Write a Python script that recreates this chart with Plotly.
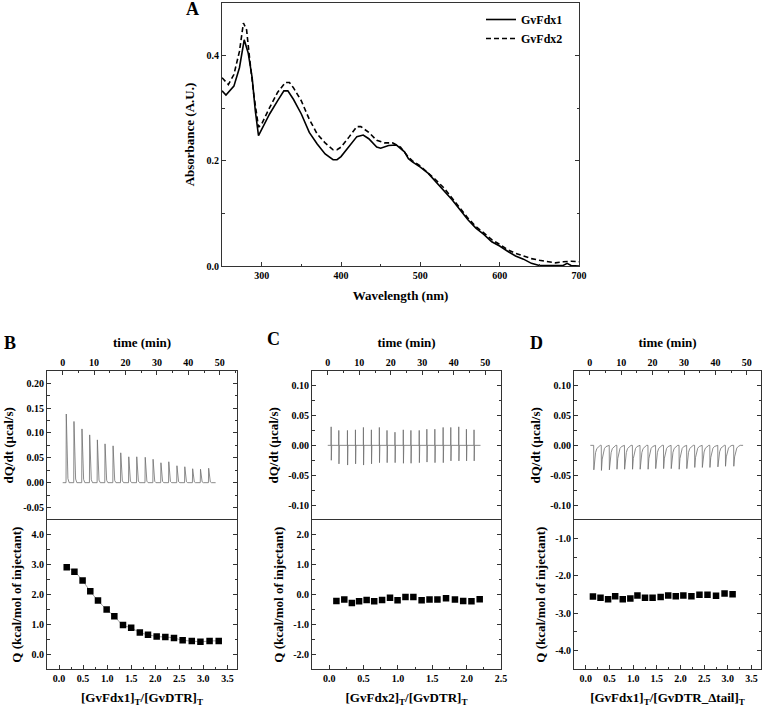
import plotly.graph_objects as go

W, H = 764, 707

# ---------------- Panel A data ----------------
wl_fdx1 = [250, 255, 265, 272, 278, 283, 288, 292, 296, 300, 310, 320, 328, 333, 340, 350, 360, 370,
           380, 390, 395, 400, 410, 420, 428, 435, 445, 450, 460, 470, 480, 485, 490, 500, 510, 520,
           530, 540, 550, 560, 570, 580, 590, 600, 610, 620, 630, 640, 650, 660, 670, 680, 685, 690, 700]
abs_fdx1 = [0.333, 0.325, 0.342, 0.377, 0.430, 0.405, 0.358, 0.295, 0.248, 0.260, 0.289, 0.314, 0.333,
            0.333, 0.317, 0.289, 0.254, 0.232, 0.213, 0.202, 0.202, 0.208, 0.226, 0.246, 0.249, 0.242,
            0.226, 0.224, 0.229, 0.230, 0.217, 0.204, 0.198, 0.188, 0.176, 0.160, 0.144, 0.126, 0.107,
            0.088, 0.072, 0.060, 0.046, 0.038, 0.028, 0.019, 0.013, 0.005, 0.001, 0.001, 0.000, 0.001,
            0.005, 0.001, 0.000]
wl_fdx2 = [250, 258, 265, 272, 277, 281, 285, 290, 296, 300, 310, 320, 330, 335, 340, 350, 360, 370,
           380, 390, 395, 400, 410, 420, 425, 435, 445, 455, 465, 475, 485, 490, 500, 510, 520, 530,
           540, 550, 560, 570, 580, 590, 600, 610, 620, 630, 640, 650, 660, 670, 680, 690, 700]
abs_fdx2 = [0.358, 0.345, 0.364, 0.408, 0.462, 0.449, 0.392, 0.327, 0.264, 0.270, 0.301, 0.330, 0.349,
            0.349, 0.339, 0.314, 0.279, 0.251, 0.234, 0.221, 0.221, 0.226, 0.245, 0.265, 0.265, 0.254,
            0.239, 0.234, 0.234, 0.226, 0.207, 0.200, 0.190, 0.177, 0.163, 0.148, 0.130, 0.110, 0.091,
            0.075, 0.063, 0.050, 0.041, 0.031, 0.024, 0.019, 0.014, 0.011, 0.009, 0.006, 0.008, 0.009,
            0.008]
a_xticks = [300, 400, 500, 600, 700]
a_yticks = [0.0, 0.2, 0.4]
a_ytext = ["0.0", "0.2", "0.4"]

# ---------------- Panel B data ----------------
b_inj_time = [1.06, 3.51, 6.06, 8.51, 10.96, 13.4, 15.96, 18.4, 20.96, 23.5, 26.2, 28.7, 31.2,
              33.7, 36.3, 38.8, 41.3, 43.8, 46.4]
b_peak = [0.138, 0.123, 0.108, 0.096, 0.086, 0.078, 0.074, 0.060, 0.052, 0.052, 0.051, 0.047,
          0.040, 0.042, 0.034, 0.032, 0.028, 0.027, 0.029]
b_time_span = [0.0, 48.7]
b_ratio = [0.16, 0.32, 0.49, 0.65, 0.81, 0.99, 1.15, 1.33, 1.50, 1.68, 1.85, 2.03, 2.21, 2.39,
           2.57, 2.76, 2.94, 3.13, 3.32]
b_heat = [2.92, 2.77, 2.47, 2.11, 1.80, 1.50, 1.28, 0.98, 0.89, 0.73, 0.66, 0.60, 0.58, 0.55,
          0.47, 0.45, 0.42, 0.45, 0.45]
b_up_ticks = [-0.05, 0.0, 0.05, 0.10, 0.15, 0.20]
b_up_text = ["-0.05", "0.00", "0.05", "0.10", "0.15", "0.20"]
b_lo_ticks = [0, 1, 2, 3, 4]
b_lo_text = ["0.0", "1.0", "2.0", "3.0", "4.0"]

# ---------------- Panel C data ----------------
c_inj_time = [1.05, 3.48, 6.22, 8.76, 11.29, 13.82, 16.35, 18.78, 21.31, 23.95, 26.37, 29.01,
              31.43, 33.97, 36.6, 39.03, 41.56, 43.99, 46.41]
c_up = [0.031, 0.025, 0.025, 0.026, 0.030, 0.026, 0.030, 0.025, 0.022, 0.026, 0.025, 0.025,
        0.027, 0.027, 0.030, 0.030, 0.031, 0.027, 0.026]
c_down = [-0.025, -0.031, -0.033, -0.031, -0.033, -0.031, -0.029, -0.029, -0.029, -0.030, -0.030,
          -0.029, -0.028, -0.029, -0.029, -0.026, -0.026, -0.026, -0.026]
c_time_span = [0.0, 48.5]
c_ratio = [0.105, 0.22, 0.33, 0.435, 0.545, 0.655, 0.77, 0.885, 0.995, 1.11, 1.225, 1.345,
           1.46, 1.575, 1.70, 1.83, 1.95, 2.07, 2.19]
c_heat = [-0.21, -0.16, -0.28, -0.22, -0.18, -0.22, -0.18, -0.10, -0.19, -0.08, -0.08, -0.19,
          -0.16, -0.16, -0.12, -0.16, -0.21, -0.22, -0.15]
cd_up_ticks = [-0.10, -0.05, 0.0, 0.05, 0.10]
cd_up_text = ["-0.10", "-0.05", "0.00", "0.05", "0.10"]
c_lo_ticks = [-2, -1, 0, 1, 2]
c_lo_text = ["-2.0", "-1.0", "0.0", "1.0", "2.0"]

# ---------------- Panel D data ----------------
d_inj_time = [1.26, 3.68, 6.21, 8.63, 11.05, 13.58, 16.0, 18.53, 20.95, 23.47, 25.89, 28.42,
              30.84, 33.37, 35.79, 38.21, 40.74, 43.16, 45.8]
d_dip = [-0.041, -0.042, -0.041, -0.040, -0.040, -0.040, -0.040, -0.040, -0.039, -0.039, -0.039,
         -0.040, -0.039, -0.037, -0.037, -0.037, -0.036, -0.035, -0.035]
d_time_span = [0.2, 48.8]
d_ratio = [0.15, 0.31, 0.47, 0.62, 0.78, 0.94, 1.09, 1.25, 1.41, 1.58, 1.74, 1.90, 2.06, 2.23,
           2.40, 2.57, 2.75, 2.93, 3.10]
d_heat = [-2.55, -2.58, -2.62, -2.54, -2.62, -2.60, -2.52, -2.58, -2.58, -2.56, -2.52, -2.54,
          -2.52, -2.54, -2.50, -2.50, -2.53, -2.47, -2.49]
d_lo_ticks = [-4, -3, -2, -1]
d_lo_text = ["-4.0", "-3.0", "-2.0", "-1.0"]

time_ticks = [0, 10, 20, 30, 40, 50]
ratio_ticks_35 = [0.0, 0.5, 1.0, 1.5, 2.0, 2.5, 3.0, 3.5]
ratio_text_35 = ["0.0", "0.5", "1.0", "1.5", "2.0", "2.5", "3.0", "3.5"]
ratio_ticks_25 = [0.0, 0.5, 1.0, 1.5, 2.0, 2.5]
ratio_text_25 = ["0.0", "0.5", "1.0", "1.5", "2.0", "2.5"]

# spike drawing profiles (style: time offset, fraction of the read peak)
profile_b = [(0.0, 0.0), (0.08, 1.0), (0.3, 0.3), (0.6, 0.06), (1.0, 0.0)]
profile_d = [(0.0, 0.0), (0.05, 1.0), (0.3, 0.55), (0.6, 0.3), (1.0, 0.13), (1.5, 0.05), (2.1, 0.0)]


def build_trace(span, times, peaks, profile):
    xs, ys = [span[0]], [0.0]
    for t, h in zip(times, peaks):
        for dt, f in profile:
            xs.append(t + dt)
            ys.append(f * h)
    xs.append(span[1])
    ys.append(0.0)
    return xs, ys


def build_c_trace(span, times, ups, downs):
    xs, ys = [span[0]], [0.0]
    for t, u, d in zip(times, ups, downs):
        xs += [t, t + 0.03, t + 0.08, t + 0.2]
        ys += [0.0, u, d, 0.0]
    xs.append(span[1])
    ys.append(0.0)
    return xs, ys


FONT = "Liberation Serif"
tickfont = dict(family=FONT, size=10, color="black", weight="bold")
titlefont = dict(family=FONT, size=13, color="black", weight="bold")
LINEC = "#333333"
RAW = "#6e6e6e"


def fx(p):
    return p / W


def fy(p):
    return 1 - p / H


def axis(domain, rng, tickvals, ticktext, minor_dtick, side, title, anchor,
         mirror="ticks", showlabels=True, standoff=6, linecolor=LINEC):
    d = dict(domain=domain, range=rng, anchor=anchor, side=side,
             showline=True, linecolor=linecolor, linewidth=1, mirror=mirror,
             ticks="inside", ticklen=4, tickwidth=1, tickcolor=LINEC,
             tickmode="array", tickvals=tickvals, ticktext=ticktext,
             showticklabels=showlabels, tickfont=tickfont,
             minor=dict(ticks="inside", ticklen=2.5, dtick=minor_dtick, tickcolor=LINEC,
                        tick0=0),
             showgrid=False, zeroline=False, automargin=False)
    if title:
        d["title"] = dict(text=title, font=titlefont, standoff=standoff)
    return d


fig = go.Figure()

# Panel A
fig.add_trace(go.Scatter(x=wl_fdx1, y=abs_fdx1, mode="lines", name="GvFdx1",
                         line=dict(color="black", width=1.6), xaxis="x", yaxis="y"))
fig.add_trace(go.Scatter(x=wl_fdx2, y=abs_fdx2, mode="lines", name="GvFdx2",
                         line=dict(color="black", width=1.6, dash="5px,3px"), xaxis="x", yaxis="y"))

# Panel B
bx, by = build_trace(b_time_span, b_inj_time, b_peak, profile_b)
fig.add_trace(go.Scatter(x=bx, y=by, mode="lines", line=dict(color=RAW, width=0.8),
                         showlegend=False, xaxis="x2", yaxis="y2"))
fig.add_trace(go.Scatter(x=b_ratio, y=b_heat, mode="lines", line=dict(color="#888888", width=0.8, shape="spline"),
                         showlegend=False, xaxis="x3", yaxis="y3"))
fig.add_trace(go.Scatter(x=b_ratio, y=b_heat, mode="markers",
                         marker=dict(symbol="square", size=6.5, color="black"),
                         showlegend=False, xaxis="x3", yaxis="y3"))

# Panel C
cx, cy = build_c_trace(c_time_span, c_inj_time, c_up, c_down)
fig.add_trace(go.Scatter(x=cx, y=cy, mode="lines", line=dict(color=RAW, width=0.8),
                         showlegend=False, xaxis="x4", yaxis="y4"))
fig.add_trace(go.Scatter(x=c_ratio, y=c_heat, mode="markers",
                         marker=dict(symbol="square", size=6.5, color="black"),
                         showlegend=False, xaxis="x5", yaxis="y5"))

# Panel D
dx, dy = build_trace(d_time_span, d_inj_time, d_dip, profile_d)
fig.add_trace(go.Scatter(x=dx, y=dy, mode="lines", line=dict(color=RAW, width=0.8),
                         showlegend=False, xaxis="x6", yaxis="y6"))
fig.add_trace(go.Scatter(x=d_ratio, y=d_heat, mode="markers",
                         marker=dict(symbol="square", size=6.5, color="black"),
                         showlegend=False, xaxis="x7", yaxis="y7"))

upper_dom = [fy(520), fy(370.7)]
lower_dom = [fy(669.3), fy(520)]
bx_dom = [fx(47), fx(237)]
cx_dom = [fx(312), fx(501)]
dx_dom = [fx(574), fx(761)]

time_text = [str(t) for t in time_ticks]
DIV = "#555555"

layout = dict(
    width=W, height=H, margin=dict(l=0, r=0, t=0, b=0),
    paper_bgcolor="white", plot_bgcolor="white",
    showlegend=True,
    legend=dict(x=fx(481), y=fy(5), xanchor="left", yanchor="top",
                font=dict(family=FONT, size=12, color="black", weight="bold"),
                bgcolor="rgba(0,0,0,0)", tracegroupgap=0),
    # A
    xaxis=axis([fx(222), fx(579)], [250, 700], a_xticks, [str(v) for v in a_xticks], 50,
               "bottom", "Wavelength (nm)", "y", mirror=True, standoff=10),
    yaxis=axis([fy(266), fy(3)], [0, 0.5], a_yticks, a_ytext, 0.1,
               "left", "Absorbance (A.U.)", "x", standoff=8),
    # B
    xaxis2=axis(bx_dom, [-5, 55.5], time_ticks, time_text, 5, "top", "time (min)", "y2", mirror=False),
    yaxis2=axis(upper_dom, [-0.075, 0.225], b_up_ticks, b_up_text, 0.025, "left",
                "dQ/dt (μcal/s)", "x2"),
    xaxis3=axis(bx_dom, [-0.25, 3.7], ratio_ticks_35, ratio_text_35, 0.25, "bottom",
                "[GvFdx1]<sub>T</sub>/[GvDTR]<sub>T</sub>", "y3", mirror=True, standoff=10),
    yaxis3=axis(lower_dom, [-0.5, 4.5], b_lo_ticks, b_lo_text, 0.5, "left",
                "Q (kcal/mol of injectant)", "x3"),
    # C
    xaxis4=axis(cx_dom, [-5, 55], time_ticks, time_text, 5, "top", "time (min)", "y4", mirror=False),
    yaxis4=axis(upper_dom, [-0.125, 0.125], cd_up_ticks, cd_up_text, 0.025, "left",
                "dQ/dt (μcal/s)", "x4"),
    xaxis5=axis(cx_dom, [-0.25, 2.5], ratio_ticks_25, ratio_text_25, 0.25, "bottom",
                "[GvFdx2]<sub>T</sub>/[GvDTR]<sub>T</sub>", "y5", mirror=True, standoff=10),
    yaxis5=axis(lower_dom, [-2.5, 2.5], c_lo_ticks, c_lo_text, 0.5, "left",
                "Q (kcal/mol of injectant)", "x5"),
    # D
    xaxis6=axis(dx_dom, [-5, 54.5], time_ticks, time_text, 5, "top", "time (min)", "y6", mirror=False),
    yaxis6=axis(upper_dom, [-0.125, 0.125], cd_up_ticks, cd_up_text, 0.025, "left",
                "dQ/dt (μcal/s)", "x6"),
    xaxis7=axis(dx_dom, [-0.25, 3.7], ratio_ticks_35, ratio_text_35, 0.25, "bottom",
                "[GvFdx1]<sub>T</sub>/[GvDTR_Δtail]<sub>T</sub>", "y7", mirror=True, standoff=10),
    yaxis7=axis(lower_dom, [-4.5, -0.5], d_lo_ticks, d_lo_text, 0.5, "left",
                "Q (kcal/mol of injectant)", "x7"),
)
fig.update_layout(**layout)

panel_letters = [("A", 192, 9), ("B", 10, 343), ("C", 273, 339), ("D", 536, 343)]
for txt, px, py in panel_letters:
    fig.add_annotation(x=fx(px), y=fy(py), xref="paper", yref="paper", text=txt,
                       showarrow=False, xanchor="center", yanchor="middle",
                       font=dict(family=FONT, size=18, color="black", weight="bold"))

fig.write_html("out.html", config={"displayModeBar": False},
               post_script="document.body.style.margin='0';document.body.style.overflow='hidden';")
